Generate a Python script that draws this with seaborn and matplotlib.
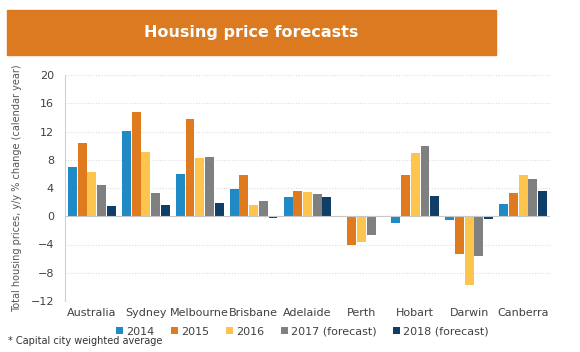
import numpy as np
import pandas as pd
import seaborn as sns
import matplotlib.pyplot as plt
from matplotlib.patches import Rectangle

## data
cities = ["Australia", "Sydney", "Melbourne", "Brisbane", "Adelaide",
          "Perth", "Hobart", "Darwin", "Canberra"]
years = ["2014", "2015", "2016", "2017 (forecast)", "2018 (forecast)"]
v2014 = [7.0, 12.1, 6.0, 3.8, 2.7, -0.1, -0.9, -0.6, 1.8]
v2015 = [10.4, 14.7, 13.7, 5.8, 3.6, -4.0, 5.9, -5.3, 3.3]
v2016 = [6.3, 9.1, 8.2, 1.6, 3.4, -3.6, 9.0, -9.8, 5.8]
v2017 = [4.4, 3.3, 8.4, 2.1, 3.1, -2.7, 9.9, -5.6, 5.3]
v2018 = [1.4, 1.6, 1.9, -0.3, 2.7, 0.0, 2.9, -0.4, 3.6]
yticks = [-12, -8, -4, 0, 4, 8, 12, 16, 20]

colors = ["#1f8ac6", "#df7a1f", "#fdc54d", "#808080", "#0f3f66"]

df = pd.DataFrame({"city": cities, years[0]: v2014, years[1]: v2015,
                   years[2]: v2016, years[3]: v2017, years[4]: v2018})
df_melt = df.melt(id_vars="city", var_name="year", value_name="value")

## plot figure
plt.rcParams["font.family"] = "DejaVu Sans"
plt.rcParams["font.size"] = 8

fig = plt.figure(figsize=(5.8, 3.52), dpi=100)
ax = fig.add_axes([65/580, 1-301/352, 485/580, 226/352])
ax.set_axisbelow(True)

sns.barplot(data=df_melt, x="city", y="value", hue="year", palette=colors,
            width=0.9, gap=0.08, saturation=1, ax=ax, errorbar=None,
            legend=True)

ax.set_ylim(-12, 20)
ax.set_yticks(yticks)
ax.set_xlim(-0.5, len(cities) - 0.5)
ax.yaxis.grid(True, color="#dddddd", ls=(0, (1, 1.5)), lw=0.8)
ax.axhline(0, color="#c8c8c8", lw=0.8, zorder=1)
for s in ["top", "right", "bottom"]:
    ax.spines[s].set_visible(False)
ax.spines["left"].set_color("#d0d0d0")
ax.tick_params(axis="both", length=0, colors="#404040", labelsize=8)
ax.tick_params(axis="y", pad=8)
ax.tick_params(axis="x", pad=5)
ax.set_xlabel("")
ax.set_ylabel("Total housing prices, y/y % change (calendar year)",
              fontsize=7, color="#555555", labelpad=6)

ax.legend(loc="upper center", bbox_to_anchor=(0.49, -0.07), ncol=5,
          frameon=False, fontsize=8, handlelength=0.6, handleheight=0.6,
          handletextpad=0.3, columnspacing=1.5, labelcolor="#404040")

## title banner
fig.patches.append(Rectangle((7/580, 1-55/352), 489/580, 45/352,
                             transform=fig.transFigure, color="#dc7a22",
                             zorder=0))
fig.text(251/580, 1-33/352, "Housing price forecasts", ha="center",
         va="center", color="white", fontsize=11.5, fontweight="bold")
fig.text(8/580, 1-341/352, "* Capital city weighted average",
         fontsize=7, color="#333333", va="center")

plt.savefig("out.png", dpi=100)
